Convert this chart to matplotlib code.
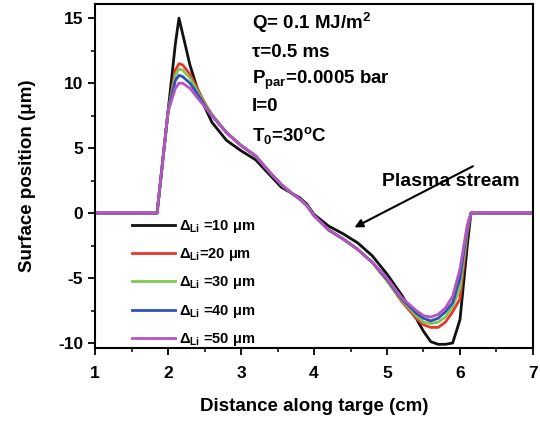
import matplotlib
matplotlib.use("Agg")
import matplotlib.pyplot as plt
from matplotlib.ticker import MultipleLocator

plt.rcParams['font.family'] = ['Liberation Sans', 'DejaVu Sans']
plt.rcParams['font.weight'] = 'bold'
plt.rcParams['axes.unicode_minus'] = False
plt.rcParams['mathtext.fontset'] = 'custom'
plt.rcParams['mathtext.rm'] = 'Liberation Sans:bold'
plt.rcParams['mathtext.bf'] = 'Liberation Sans:bold'
plt.rcParams['mathtext.it'] = 'Liberation Sans:bold'
plt.rcParams['mathtext.default'] = 'bf'

# Data (distance in cm, surface position in um)
x = [1.0, 1.85, 1.9, 2.0, 2.1, 2.15, 2.2, 2.3, 2.4, 2.5, 2.6, 2.8, 3.0, 3.2, 3.4, 3.55,
     3.7, 3.8, 3.9, 4.0, 4.2, 4.4, 4.6, 4.8, 5.0, 5.2, 5.4, 5.5, 5.6, 5.7, 5.8, 5.9,
     6.0, 6.1, 6.15, 7.0]
y10 = [0, 0, 2.6, 7.8, 13.0, 15.0, 13.8, 11.4, 9.6, 8.2, 7.0, 5.6, 4.8, 4.1, 2.9, 2.0,
       1.5, 1.2, 0.7, -0.1, -1.0, -1.6, -2.3, -3.3, -4.7, -6.3, -8.1, -9.1, -9.9, -10.1, -10.1, -10.0,
       -8.2, -2.5, 0, 0]
y20 = [0, 0, 2.6, 7.8, 11.0, 11.5, 11.4, 10.7, 9.6, 8.5, 7.6, 6.2, 5.2, 4.4, 3.1, 2.2,
       1.5, 1.1, 0.6, -0.2, -1.3, -2.0, -2.8, -3.8, -5.2, -6.8, -8.1, -8.6, -8.8, -8.8, -8.4, -7.6,
       -6.6, -1.5, 0, 0]
y30 = [0, 0, 2.6, 7.8, 10.6, 11.1, 11.0, 10.4, 9.4, 8.4, 7.6, 6.2, 5.2, 4.4, 3.1, 2.2,
       1.5, 1.1, 0.6, -0.2, -1.3, -2.0, -2.8, -3.8, -5.2, -6.7, -7.9, -8.4, -8.5, -8.4, -8.0, -7.2,
       -5.8, -1.3, 0, 0]
y40 = [0, 0, 2.6, 7.8, 10.2, 10.6, 10.5, 10.0, 9.2, 8.3, 7.5, 6.2, 5.2, 4.4, 3.1, 2.2,
       1.5, 1.1, 0.6, -0.2, -1.3, -2.0, -2.8, -3.8, -5.1, -6.6, -7.7, -8.1, -8.3, -8.1, -7.6, -6.9,
       -5.0, -1.1, 0, 0]
y50 = [0, 0, 2.6, 7.8, 9.6, 10.0, 10.0, 9.6, 8.9, 8.2, 7.5, 6.2, 5.2, 4.4, 3.1, 2.2,
       1.5, 1.1, 0.6, -0.2, -1.3, -2.0, -2.8, -3.8, -5.0, -6.5, -7.5, -7.9, -8.0, -7.8, -7.3, -6.4,
       -4.3, -0.9, 0, 0]

series = [y10, y20, y30, y40, y50]
labels = ['Δ$_{Li}$ =10 μm', 'Δ$_{Li}$=20 μm', 'Δ$_{Li}$ =30 μm', 'Δ$_{Li}$ =40 μm', 'Δ$_{Li}$ =50 μm']
colors = ['#111111', '#e8372c', '#7dc855', '#3050b8', '#b455c0']

xticks = [1, 2, 3, 4, 5, 6, 7]
xtick_labels = ['1', '2', '3', '4', '5', '6', '7']
yticks = [-10, -5, 0, 5, 10, 15]
ytick_labels = ['-10', '-5', '0', '5', '10', '15']

fig = plt.figure(figsize=(5.4, 4.32), dpi=100)
ax = fig.add_axes([0.176, 0.194, 0.811, 0.797])

for ys, lab, c in zip(series, labels, colors):
    ax.plot(x, ys, color=c, lw=2.0, label=lab, solid_joinstyle='round')

ax.set_xlim(1, 7)
ax.set_ylim(-10.4, 16.1)
ax.set_xticks(xticks)
ax.set_xticklabels(xtick_labels, fontweight='bold', fontsize=12.5)
ax.set_yticks(yticks)
ax.set_yticklabels(ytick_labels, fontweight='bold', fontsize=12.5)
ax.xaxis.set_minor_locator(MultipleLocator(0.5))
ax.yaxis.set_minor_locator(MultipleLocator(2.5))
ax.tick_params(which='major', direction='out', length=5, width=1.3)
ax.tick_params(axis='x', which='major', pad=8)
ax.tick_params(which='minor', direction='out', length=3, width=1.1)
for s in ax.spines.values():
    s.set_linewidth(1.5)

ax.set_xlabel('Distance along targe (cm)', fontsize=13.5, fontweight='bold', labelpad=12)
ax.set_ylabel('Surface position (μm)', fontsize=13.5, fontweight='bold', labelpad=16)

info = ['Q= 0.1 MJ/m$^{2}$', 'τ=0.5 ms', 'P$_{par}$=0.0005 bar', 'I=0', 'T$_{0}$=30$^{o}$C']
ypos = [0.945, 0.860, 0.779, 0.701, 0.619]
for t, yy in zip(info, ypos):
    ax.text(0.358, yy, t, transform=ax.transAxes, fontsize=13.5, fontweight='bold',
            va='center', ha='left')

ax.annotate('', xy=(4.52, -1.2), xytext=(6.21, 3.7),
            arrowprops=dict(arrowstyle='-|>', color='black', lw=1.5, mutation_scale=12))
ax.text(5.88, 2.45, 'Plasma stream', fontsize=14, fontweight='bold', ha='center', va='center')

leg = ax.legend(loc='lower left', bbox_to_anchor=(0.085, 0.0), frameon=False,
                fontsize=10.5, handlelength=2.9, handletextpad=0.3, labelspacing=0.78,
                borderaxespad=0, borderpad=0)
for t in leg.get_texts():
    t.set_fontweight('bold')

fig.savefig('out.png', dpi=100)
